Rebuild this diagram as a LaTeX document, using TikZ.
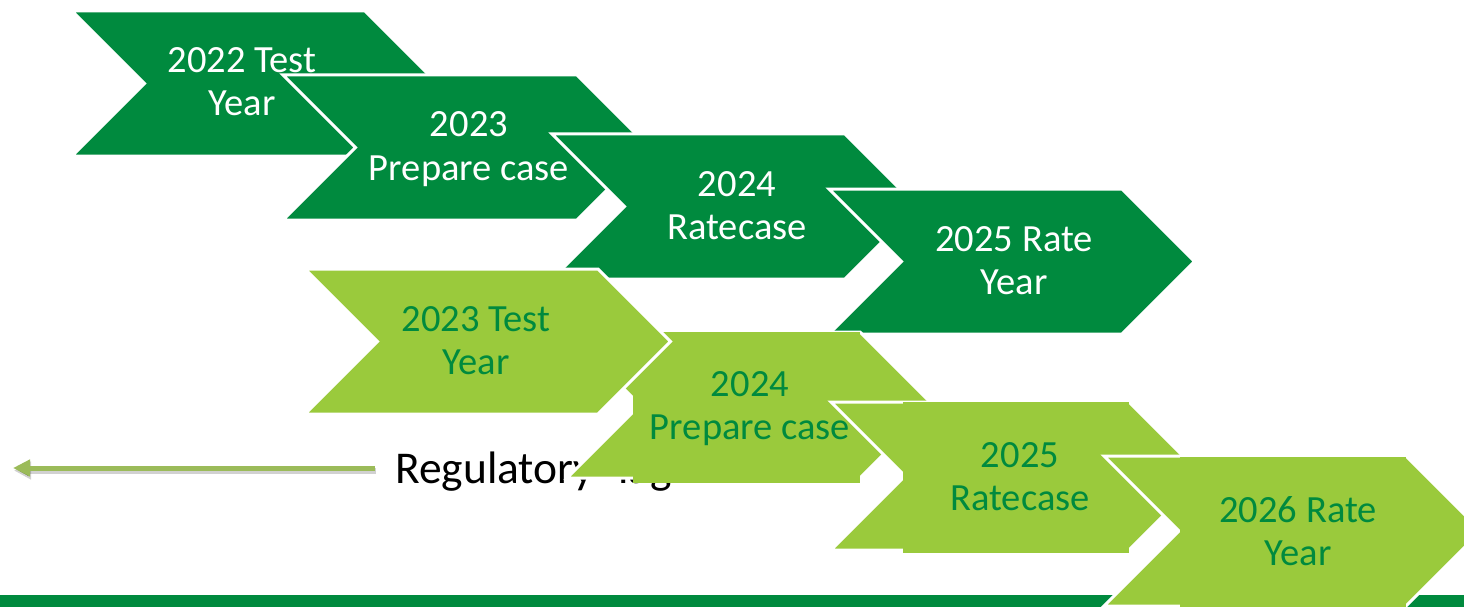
\documentclass[tikz,border=0pt]{standalone}
\usepackage{fontspec}
\setmainfont{Carlito}
\usetikzlibrary{arrows.meta}
\definecolor{dkgreen}{RGB}{0,138,62}
\definecolor{ltgreen}{RGB}{154,202,60}
\definecolor{arrowgreen}{RGB}{155,187,89}
\tikzset{
  darkchev/.style={fill=dkgreen, draw=white, line width=3pt, line join=miter},
  lightchev/.style={fill=ltgreen, draw=white, line width=3pt, line join=miter},
  lightbox/.style={fill=ltgreen},
  dtext/.style={text=white, font=\fontsize{38.5}{43}\selectfont, anchor=base, inner sep=0pt},
  ltext/.style={text=dkgreen, font=\fontsize{38.5}{43}\selectfont, anchor=base, inner sep=0pt},
  lagtext/.style={text=black, font=\fontsize{45.5}{52}\selectfont, anchor=base west, inner sep=0pt},
  lagarrow/.style={draw=arrowgreen, line width=5pt, -{Triangle[length=17pt,width=16pt]},
    preaction={draw=black, draw opacity=0.18, line width=6pt, -{Triangle[length=17pt,width=17pt]},
      transform canvas={shift={(1pt,-2.5pt)}}}},
  barfill/.style={fill=dkgreen}
}
% #1 x0, #2 y0, #3 top length, #4 height, #5 style
\newcommand\chevpath[5]{%
  \path[#5] (#1,#2) -- ({#1+#3},#2) -- ({#1+#3+#4/2},{#2+#4/2}) -- ({#1+#3},{#2+#4})
    -- (#1,{#2+#4}) -- ({#1+#4/2},{#2+#4/2}) -- cycle;}
\begin{document}
\begin{tikzpicture}[x=1pt,y=-1pt]
\useasboundingbox (0,0) rectangle (1464,607);
% bottom bar
\path[barfill] (0,595) rectangle (1464,607);
% regulatory lag arrow and label
\coordinate (lagstart) at (375,468);
\coordinate (lagend) at (13,468);
\draw[lagarrow] (lagstart) -- (lagend);
\node[lagtext] (lag) at (395,483) {Regulatory\hspace{0.3em} lag};
% dark row
\chevpath{72}{11}{293}{145}{darkchev}
\node[dtext] (d1a) at (242,73) {2022 Test};
\node[dtext] (d1b) at (242,116) {Year};
\chevpath{283}{75}{294}{145}{darkchev}
\node[dtext] (d2a) at (469,137) {2023};
\node[dtext] (d2b) at (469,180) {Prepare case};
\chevpath{552}{134}{293}{145}{darkchev}
\node[dtext] (d3a) at (737,196) {2024};
\node[dtext] (d3b) at (737,239) {Ratecase};
\chevpath{829}{189}{293}{145}{darkchev}
\node[dtext] (d4a) at (1014,251) {2025 Rate};
\node[dtext] (d4b) at (1014,294) {Year};
% light row
\chevpath{567}{332}{293}{146}{lightchev}
\path[lightbox] (633,332) rectangle (860,483);
\node[ltext] (l2a) at (750,396) {2024};
\node[ltext] (l2b) at (750,439) {Prepare case};
\chevpath{305}{269}{293}{145}{lightchev}
\node[ltext] (l1a) at (476,331) {2023 Test};
\node[ltext] (l1b) at (476,374) {Year};
\chevpath{831}{402}{298}{148}{lightchev}
\path[lightbox] (903,402) rectangle (1129,553);
\node[ltext] (l3a) at (1020,467) {2025};
\node[ltext] (l3b) at (1020,510) {Ratecase};
\chevpath{1104}{456}{302}{150}{lightchev}
\path[lightbox] (1180,457) rectangle (1406,607);
\node[ltext] (l4a) at (1298,522) {2026 Rate};
\node[ltext] (l4b) at (1298,565) {Year};
\end{tikzpicture}
\end{document}
